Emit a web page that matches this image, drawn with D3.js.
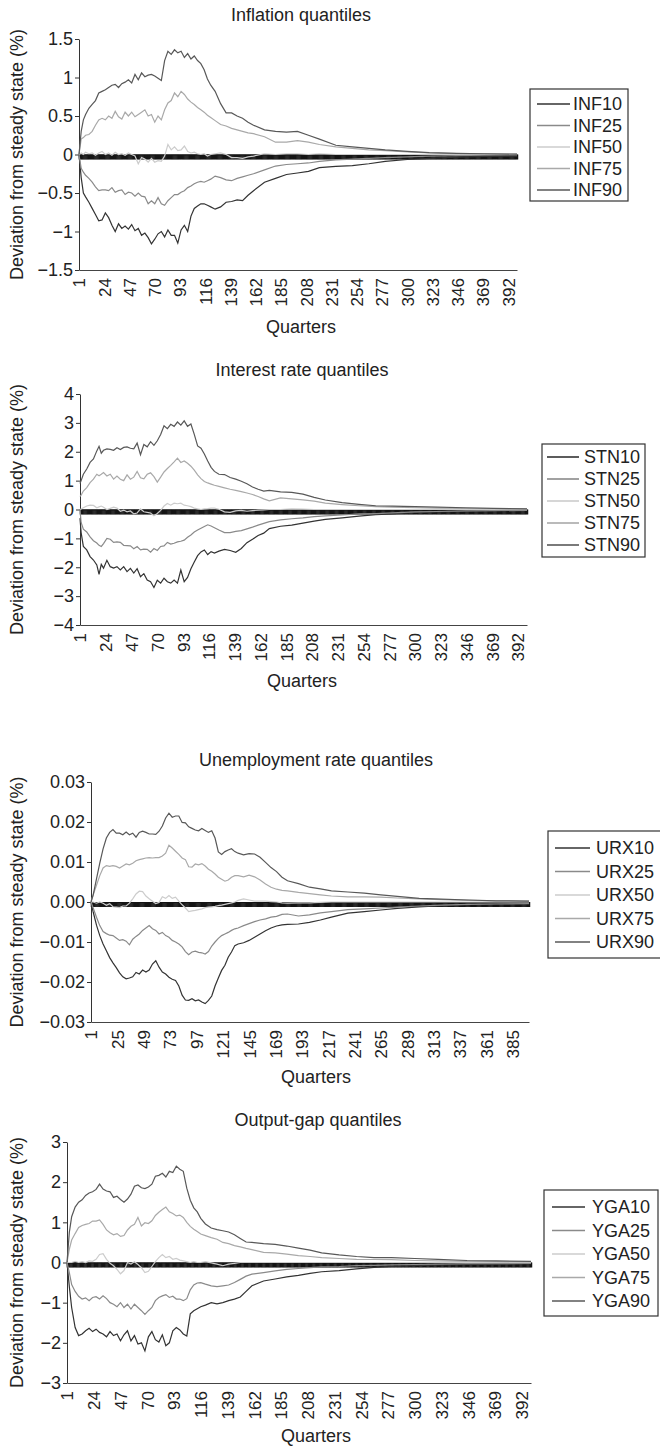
<!DOCTYPE html>
<html>
<head>
<meta charset="utf-8">
<title>Quantiles</title>
<script src="https://d3js.org/d3.v7.min.js"></script>
<style>
  body { margin: 0; background: #fff; }
  svg text { font-family: "Liberation Sans", Arial, Helvetica, sans-serif; }
</style>
</head>
<body>
<script>
// ---- data (quarter -> deviation) ----
var qInf = [1,3,5,7, 10,13,16,19,22,25,28,31,34,37, 40,43,46,49,52,55,58,61,64,67, 70,73,76,79,82,85,88,91,94,97,
  100,103,106,109,112,115,118,121, 125,130,135,140,145,150,155,160, 170,180,190,200,210,220, 235,250,265,280, 300,320,345,370,400];
var inf10 = [0,-0.3,-0.5,-0.55, -0.62,-0.7,-0.78,-0.86,-0.85,-0.76,-0.82,-0.92,-1.0,-0.9, -0.96,-0.93,-0.97,-0.91,-0.99,-0.96,-1.05,-1.02,-1.08,-1.16,
  -1.1,-1.03,-1.0,-1.07,-0.98,-1.05,-1.05,-1.15,-0.98,-0.92, -1.0,-0.8,-0.7,-0.67,-0.64,-0.64,-0.66,-0.68, -0.71,-0.68,-0.62,-0.61,-0.59,-0.6,-0.53,-0.47,
  -0.36,-0.31,-0.26,-0.24,-0.22,-0.17, -0.155,-0.145,-0.12,-0.09, -0.065,-0.05,-0.035,-0.025,-0.02];
var inf25 = [0,-0.18,-0.23,-0.27, -0.31,-0.36,-0.42,-0.47,-0.46,-0.46,-0.47,-0.43,-0.49,-0.47, -0.46,-0.52,-0.49,-0.5,-0.54,-0.5,-0.54,-0.55,-0.64,-0.6,
  -0.64,-0.56,-0.64,-0.66,-0.6,-0.56,-0.52,-0.52,-0.49,-0.47, -0.43,-0.41,-0.38,-0.36,-0.35,-0.36,-0.34,-0.32, -0.28,-0.3,-0.33,-0.34,-0.31,-0.29,-0.27,-0.25,
  -0.2,-0.15,-0.13,-0.12,-0.11,-0.09, -0.07,-0.06,-0.05,-0.04, -0.03,-0.02,-0.015,-0.01,-0.005];
var inf50 = [0,0.02,0,0.03, 0.01,0.02,-0.01,0.02,0.04,0,0.02,-0.01,0.03,0, 0.01,-0.01,0.02,0,-0.02,-0.12,-0.04,-0.06,-0.1,-0.05,
  -0.1,-0.08,-0.09,-0.02,0.13,0.06,0.1,0.05,0.06,0.11, 0.04,0.02,0.03,0.01,0,0.01,-0.02,0, 0.01,0.02,0,-0.04,-0.04,-0.05,-0.03,-0.02,
  0.01,0,0.01,0.01,0,0.01, 0,0,0,0, 0,0,0,0,0];
var inf75 = [0,0.2,0.22,0.25, 0.26,0.3,0.38,0.45,0.47,0.45,0.5,0.47,0.56,0.49, 0.46,0.55,0.5,0.55,0.49,0.52,0.55,0.58,0.5,0.52,
  0.42,0.5,0.45,0.58,0.67,0.7,0.8,0.75,0.82,0.78, 0.72,0.68,0.65,0.61,0.58,0.55,0.51,0.48, 0.44,0.39,0.37,0.34,0.32,0.3,0.28,0.27,
  0.23,0.16,0.16,0.18,0.16,0.13, 0.1,0.08,0.06,0.05, 0.035,0.02,0.012,0.008,0.004];
var inf90 = [0,0.3,0.45,0.52, 0.6,0.65,0.7,0.8,0.82,0.84,0.87,0.9,0.91,0.87, 0.92,0.94,0.97,0.93,1.04,0.97,1.06,1.01,1.03,1.04,
  1.02,0.99,0.96,1.22,1.34,1.3,1.36,1.32,1.34,1.26, 1.31,1.24,1.28,1.22,1.18,1.1,0.98,0.9, 0.82,0.66,0.54,0.54,0.5,0.47,0.42,0.38,
  0.32,0.3,0.29,0.3,0.25,0.2, 0.12,0.1,0.08,0.06, 0.04,0.025,0.015,0.01,0.005];

var qStn = [1,2,4,7,10,13,16,18,20,22, 25,28,31,34,37,40,43,46,49,52, 55,58,61,64,67,70,73,76,79,82, 85,88,91,94,97,100,103,106,109,112,
  115,118,121, 125,130,135,140,145,150,155,160,165,170, 180,190,200,210,220, 235,250,265,280, 300,320,345,370,400];
var stn10 = [-0.3,-0.8,-1.28,-1.4,-1.63,-1.75,-1.92,-2.25,-1.9,-2.03, -1.76,-1.98,-2.03,-1.98,-2.09,-1.98,-2.15,-2.04,-2.2,-2.05,
  -2.33,-2.22,-2.44,-2.5,-2.7,-2.45,-2.55,-2.38,-2.5,-2.55, -2.44,-2.55,-2.1,-2.5,-2.35,-2.05,-1.82,-1.6,-1.47,-1.4,
  -1.56,-1.46,-1.51, -1.44,-1.38,-1.42,-1.48,-1.35,-1.15,-1.03,-0.9,-0.82,-0.66, -0.58,-0.54,-0.47,-0.4,-0.34, -0.29,-0.23,-0.18,-0.15, -0.1,-0.08,-0.06,-0.04,-0.03];
var stn25 = [0,-0.45,-0.68,-0.78,-0.95,-1.08,-1.16,-1.24,-1.28,-1.18, -1.0,-1.03,-1.14,-1.12,-1.14,-1.24,-1.25,-1.26,-1.36,-1.28,
  -1.4,-1.37,-1.38,-1.48,-1.35,-1.42,-1.28,-1.26,-1.14,-1.2, -1.17,-1.12,-1.1,-1.06,-0.96,-0.88,-0.78,-0.71,-0.65,-0.59,
  -0.53,-0.57,-0.63, -0.71,-0.8,-0.8,-0.76,-0.73,-0.67,-0.61,-0.54,-0.48,-0.42, -0.36,-0.32,-0.29,-0.25,-0.22, -0.19,-0.15,-0.14,-0.12, -0.08,-0.07,-0.05,-0.04,-0.03];
var stn50 = [0,0.02,0.06,0.12,0.15,0.14,0.06,0.09,0.12,0.08, 0,0.04,0.08,0.05,-0.06,-0.02,-0.08,-0.05,-0.15,-0.12,
  0.02,-0.08,-0.1,-0.12,-0.22,-0.14,-0.03,0.12,0.21,0.15, 0.22,0.2,0.22,0.15,0.13,0.1,0.05,0.02,0,0.02,
  0.03,0.05,0.05, 0.01,-0.08,-0.1,-0.05,-0.03,-0.06,-0.04,-0.02,-0.01,0, 0,0.02,0.01,0,0, 0,0,0,0, 0,0,0,0,0];
var stn75 = [0.45,0.5,0.64,0.76,0.93,1.05,1.22,1.17,1.22,1.28, 1.16,1.22,1.05,1.16,1.05,1.0,1.2,1.05,1.12,1.32,
  1.1,1.06,1.22,1.27,1.14,0.95,1.12,1.3,1.42,1.53, 1.65,1.78,1.63,1.68,1.6,1.5,1.36,1.2,1.07,0.97,
  0.92,0.88,0.84, 0.8,0.75,0.7,0.66,0.62,0.57,0.52,0.45,0.37,0.3, 0.4,0.37,0.33,0.29,0.22, 0.17,0.13,0.1,0.08, 0.06,0.05,0.04,0.03,0.02];
var stn90 = [0.9,1.0,1.22,1.4,1.63,1.75,2.03,2.19,1.95,2.05, 2.1,2.08,2.05,2.14,2.08,2.15,2.17,2.12,2.1,2.3,
  1.9,2.25,2.17,2.35,2.22,2.38,2.6,2.9,2.8,2.95, 2.88,3.03,2.92,3.07,2.88,2.96,2.6,2.2,2.12,1.92,
  1.68,1.46,1.32, 1.22,1.21,1.11,1.05,0.98,0.89,0.78,0.7,0.64,0.66, 0.61,0.59,0.53,0.42,0.33, 0.24,0.18,0.13,0.12, 0.1,0.08,0.06,0.04,0.02];

var qUrx = [1, 3,6,9,12,15,18,21,24,27,30, 33,36,39,42,45,48,51,54,57,60, 63,66,69,72,75,78,81,84,87,90, 93,96,99,102,105,108,111,114,117,120,
  123,126,129,132,135, 140,145,150,155,160,165,170,175,180, 190,200,210,220, 235,250,265,280, 300,320,345,370,400];
var urx10 = [0, -0.0025,-0.0058,-0.0084,-0.0105,-0.0122,-0.0139,-0.0152,-0.0164,-0.0177,-0.0187, -0.0192,-0.019,-0.0187,-0.0176,-0.018,-0.017,-0.0175,-0.017,-0.0155,-0.0147,
  -0.0163,-0.0175,-0.018,-0.0188,-0.0193,-0.0196,-0.021,-0.0233,-0.0245,-0.0246, -0.0242,-0.0247,-0.0245,-0.025,-0.0254,-0.0246,-0.0235,-0.021,-0.019,-0.0171,
  -0.0158,-0.0138,-0.0125,-0.0109,-0.0105, -0.0102,-0.0096,-0.0088,-0.008,-0.0072,-0.0065,-0.006,-0.0057,-0.0056, -0.0055,-0.0051,-0.0045,-0.0038,
  -0.0028,-0.0024,-0.002,-0.0016, -0.0012,-0.0009,-0.0006,-0.0004,-0.0003];
var urx25 = [0, -0.0015,-0.0038,-0.0059,-0.0074,-0.0079,-0.0083,-0.0084,-0.009,-0.0096,-0.0094, -0.0098,-0.0107,-0.0093,-0.0086,-0.008,-0.0071,-0.0065,-0.0059,-0.0067,-0.0071,
  -0.008,-0.0076,-0.0084,-0.0088,-0.0096,-0.01,-0.0105,-0.0112,-0.0124,-0.0132, -0.0125,-0.0123,-0.0126,-0.0127,-0.013,-0.0124,-0.011,-0.01,-0.0091,-0.0084,
  -0.008,-0.0076,-0.0071,-0.0067,-0.0065, -0.0059,-0.0054,-0.0049,-0.0045,-0.0042,-0.0038,-0.0036,-0.0031,-0.003, -0.0035,-0.0032,-0.0027,-0.0024,
  -0.0019,-0.0017,-0.0015,-0.0013, -0.001,-0.0008,-0.0006,-0.0005,-0.0004];
var urx50 = [0, 0,-0.0003,0,-0.0003,-0.0008,-0.0004,-0.0012,-0.0013,-0.0014,-0.001, -0.001,-0.0003,0.0008,0.002,0.0027,0.0026,0.0015,0.0008,0.0002,-0.0004,
  -0.0001,0.0013,0.0009,0.0016,0.0009,0.0012,0.0002,-0.0007,-0.0015,-0.0024, -0.0022,-0.0021,-0.0019,-0.0017,-0.0014,-0.0013,-0.0012,-0.0011,-0.0009,-0.0008,
  -0.0006,-0.0004,-0.0002,0,0.0004, 0.0008,0.0005,0.0002,0.0002,0.0002,0.0001,0,-0.0002,-0.0003, -0.0002,-0.0002,-0.0001,0,
  0,0,0,0, 0,0,0,0,0];
var urx75 = [0, 0.0018,0.0042,0.0066,0.0085,0.0091,0.0089,0.0091,0.0089,0.0085,0.009, 0.0095,0.0093,0.0097,0.0103,0.0106,0.0108,0.011,0.0111,0.011,0.0111,
  0.0111,0.0115,0.0122,0.0142,0.0135,0.0127,0.0119,0.011,0.0106,0.0088, 0.0087,0.0095,0.0093,0.0096,0.009,0.0082,0.0077,0.007,0.0062,0.0057,
  0.0052,0.0055,0.0062,0.0066,0.0066, 0.0063,0.0067,0.0063,0.0055,0.0045,0.0037,0.0032,0.0029,0.0028, 0.0024,0.0021,0.0018,0.0015,
  0.0013,0.0013,0.0012,0.001, 0.0008,0.0006,0.0004,0.0003,0.0002];
var urx90 = [0, 0.0018,0.0058,0.0097,0.0133,0.016,0.0174,0.0181,0.0172,0.0172,0.0168, 0.0175,0.0168,0.0172,0.0162,0.0174,0.0177,0.0174,0.017,0.017,0.0169,
  0.0177,0.019,0.021,0.0222,0.0212,0.0215,0.0215,0.0199,0.0198,0.0188, 0.0184,0.018,0.0178,0.0184,0.0179,0.0174,0.0178,0.016,0.0125,0.0119,
  0.0126,0.013,0.0133,0.0126,0.0122, 0.0118,0.0121,0.012,0.0112,0.0099,0.0086,0.0076,0.0062,0.0053, 0.0046,0.0037,0.0033,0.0028,
  0.0025,0.0022,0.0018,0.0014, 0.0009,0.0007,0.0005,0.0003,0.0002];

var qYga = [1,3,5, 8,11,14,17,20,23,26,29,32,35, 38,41,44,47,50,53,56,59,62,65, 68,71,74,77,80,83,86,89,92,95, 98,101,104,107,110,113,116,
  120, 125,130,135,140,145,150,155,160, 170,180,190,200,210,220, 235,250,265,280, 300,320,345,370,400];
var yga10 = [0,-0.6,-1.12, -1.62,-1.82,-1.78,-1.7,-1.64,-1.72,-1.66,-1.74,-1.78,-1.85, -1.72,-1.82,-1.78,-1.95,-1.8,-1.7,-1.95,-1.82,-2.03,-2.0,
  -2.2,-1.85,-1.72,-1.92,-1.98,-1.8,-2.07,-2.0,-1.7,-1.62, -1.68,-1.78,-1.83,-1.28,-1.2,-1.15,-1.1, -1.06,
  -1.0,-1.03,-1.0,-0.95,-0.91,-0.86,-0.72,-0.58, -0.46,-0.41,-0.36,-0.32,-0.27,-0.23, -0.2,-0.16,-0.12,-0.1, -0.08,-0.06,-0.05,-0.04,-0.03];
var yga25 = [0,-0.25,-0.55, -0.72,-0.84,-0.91,-0.88,-0.95,-0.87,-0.85,-0.91,-0.83,-0.9, -1.0,-1.04,-1.1,-1.0,-1.12,-1.04,-1.16,-1.04,-1.12,-1.2,
  -1.29,-1.2,-1.12,-0.95,-0.87,-0.83,-0.8,-0.87,-0.84,-0.91, -0.91,-0.95,-0.9,-0.68,-0.56,-0.51,-0.5, -0.54,
  -0.58,-0.6,-0.58,-0.56,-0.5,-0.42,-0.34,-0.29, -0.25,-0.21,-0.17,-0.15,-0.13,-0.11, -0.1,-0.08,-0.07,-0.06, -0.05,-0.04,-0.03,-0.03,-0.02];
var yga50 = [0,0,0, 0.03,0,0.02,0,0.04,0.03,0.08,0.2,0.22,0.08, -0.02,-0.08,-0.17,-0.28,-0.2,0,-0.04,0.02,-0.05,-0.13,
  -0.25,-0.22,-0.1,0.02,0.12,0.2,0.12,0.15,0.08,0.1, 0.06,0.04,0.02,0,0.02,0,0, 0.02,
  -0.01,-0.04,-0.08,-0.04,-0.02,0,0,0, 0,0,0,0,0,0, 0,0,0,0, 0,0,0,0,0];
var yga75 = [0,0.33,0.56, 0.72,0.87,0.92,0.95,0.97,1.03,1.03,1.06,0.95,0.81, 0.74,0.69,0.72,0.65,0.67,0.81,0.9,0.95,1.12,0.91,
  0.99,0.97,1.04,1.17,1.25,1.32,1.38,1.26,1.22,1.16, 1.18,1.12,1.0,0.9,0.83,0.77,0.71, 0.67,
  0.62,0.58,0.5,0.47,0.42,0.39,0.35,0.32, 0.25,0.24,0.21,0.17,0.15,0.12, 0.1,0.08,0.075,0.07, 0.05,0.04,0.03,0.02,0.015];
var yga90 = [0,0.75,1.14, 1.38,1.5,1.56,1.67,1.73,1.76,1.82,1.95,1.83,1.78, 1.76,1.62,1.65,1.57,1.5,1.58,1.7,1.9,1.93,1.86,
  1.84,1.88,1.95,2.15,2.17,2.22,2.13,2.27,2.24,2.4, 2.32,2.27,1.85,1.55,1.36,1.26,1.1, 0.96,
  0.86,0.82,0.79,0.76,0.69,0.6,0.51,0.5, 0.47,0.45,0.41,0.36,0.31,0.24, 0.19,0.15,0.12,0.12, 0.1,0.08,0.05,0.04,0.03];

// tick labels
var xTicks23 = [1,24,47,70,93,116,139,162,185,208,231,254,277,300,323,346,369,392];
var xTicks24 = [1,25,49,73,97,121,145,169,193,217,241,265,289,313,337,361,385];
var lastQuarter = 400;

var colors = ["#333333", "#8a8a8a", "#cccccc", "#a9a9a9", "#585858"];

var svg = d3.select("body").append("svg")
    .attr("width", 660)
    .attr("height", 1449);

var panels = [
  { title: "Inflation quantiles", names: ["INF10","INF25","INF50","INF75","INF90"],
    qs: qInf, series: [inf10, inf25, inf50, inf75, inf90],
    yDomain: [-1.5, 1.5], yTicks: [-1.5,-1,-0.5,0,0.5,1,1.5], yFmt: d3.format(""), xTicks: xTicks23,
    left: 79, right: 517, top: 39, bottom: 270, titleX: 301, titleY: 21, quartersX: 301, quartersY: 333,
    leg: { x: 530, y: 89, w: 98, h: 112, row0: 104, step: 21.5, l1: 7, l2: 40, tx: 43 } },
  { title: "Interest rate quantiles", names: ["STN10","STN25","STN50","STN75","STN90"],
    qs: qStn, series: [stn10, stn25, stn50, stn75, stn90],
    yDomain: [-4, 4], yTicks: [-4,-3,-2,-1,0,1,2,3,4], yFmt: d3.format(""), xTicks: xTicks23,
    left: 80, right: 527, top: 394, bottom: 625, titleX: 302, titleY: 376, quartersX: 302, quartersY: 687,
    leg: { x: 542, y: 444, w: 103, h: 113, row0: 457, step: 22, l1: 5, l2: 37, tx: 42 } },
  { title: "Unemployment rate quantiles", names: ["URX10","URX25","URX50","URX75","URX90"],
    qs: qUrx, series: [urx10, urx25, urx50, urx75, urx90],
    yDomain: [-0.03, 0.03], yTicks: [-0.03,-0.02,-0.01,0,0.01,0.02,0.03], yFmt: d3.format(".2f"), xTicks: xTicks24,
    left: 91, right: 529, top: 782, bottom: 1022, titleX: 316, titleY: 766, quartersX: 316, quartersY: 1083,
    leg: { x: 548, y: 831, w: 116, h: 127, row0: 848, step: 23.5, l1: 7, l2: 42, tx: 48 } },
  { title: "Output-gap quantiles", names: ["YGA10","YGA25","YGA50","YGA75","YGA90"],
    qs: qYga, series: [yga10, yga25, yga50, yga75, yga90],
    yDomain: [-3, 3], yTicks: [-3,-2,-1,0,1,2,3], yFmt: d3.format(""), xTicks: xTicks23,
    left: 67, right: 531, top: 1142, bottom: 1383, titleX: 318, titleY: 1126, quartersX: 316, quartersY: 1442,
    leg: { x: 544, y: 1190, w: 114, h: 126, row0: 1207, step: 23.5, l1: 8, l2: 41, tx: 48 } }
];

var allQuarters = d3.range(1, lastQuarter + 1);

function drawPanel(p) {
  var x = d3.scaleLinear().domain([1, lastQuarter]).range([p.left, p.right]);
  var y = d3.scaleLinear().domain(p.yDomain).range([p.bottom, p.top]);
  var g = svg.append("g");

  g.append("text")
    .attr("x", p.titleX).attr("y", p.titleY)
    .attr("text-anchor", "middle")
    .style("font-size", "18px").attr("fill", "#222")
    .text(p.title);

  // category axis crossing at zero: one small tick per quarter
  g.append("g")
    .attr("transform", "translate(0," + y(0) + ")")
    .call(d3.axisBottom(x).tickValues(allQuarters).tickSize(5).tickSizeOuter(0).tickFormat(""))
    .call(function(a) {
      a.selectAll("line").attr("stroke", "#151515").attr("stroke-width", 1.5);
      a.select(".domain").attr("stroke", "#151515");
    });

  // labels at the bottom
  var xa = g.append("g")
    .attr("transform", "translate(0," + p.bottom + ")")
    .call(d3.axisBottom(x).tickValues(p.xTicks).tickSize(0).tickSizeOuter(0).tickPadding(0));
  xa.attr("font-size", 17).attr("font-family", null);
  xa.select(".domain").attr("stroke", "#444");
  xa.selectAll("text")
    .attr("transform", "rotate(-90)")
    .attr("text-anchor", "end")
    .attr("x", -8).attr("y", 0).attr("dy", "0.35em")
    .attr("fill", "#222");

  var ya = g.append("g")
    .attr("transform", "translate(" + p.left + ",0)")
    .call(d3.axisLeft(y).tickValues(p.yTicks).tickFormat(p.yFmt).tickSize(4).tickSizeOuter(0).tickPadding(2));
  ya.attr("font-size", 18).attr("font-family", null);
  ya.select(".domain").attr("stroke", "#333");
  ya.selectAll("line").attr("stroke", "#333");
  ya.selectAll("text").attr("fill", "#222");

  g.append("text")
    .attr("transform", "translate(17," + ((p.top + p.bottom) / 2) + ") rotate(-90)")
    .attr("text-anchor", "middle").attr("dy", "0.35em")
    .style("font-size", "18px").attr("fill", "#222")
    .text("Deviation from steady state (%)");

  g.append("text")
    .attr("x", p.quartersX).attr("y", p.quartersY)
    .attr("text-anchor", "middle")
    .style("font-size", "18px").attr("fill", "#222")
    .text("Quarters");

  var line = d3.line()
    .x(function(d, i) { return x(p.qs[i]); })
    .y(function(d) { return y(d); });

  p.series.forEach(function(vals, k) {
    g.append("path")
      .datum(vals)
      .attr("fill", "none")
      .attr("stroke", colors[k])
      .attr("stroke-width", 1.2)
      .attr("d", line);
  });

  // legend
  var L = p.leg;
  var lg = g.append("g");
  lg.append("rect")
    .attr("x", L.x).attr("y", L.y).attr("width", L.w).attr("height", L.h)
    .attr("fill", "#fff").attr("stroke", "#333").attr("stroke-width", 1.2);
  p.names.forEach(function(name, k) {
    var yy = L.row0 + k * L.step;
    lg.append("line")
      .attr("x1", L.x + L.l1).attr("x2", L.x + L.l2)
      .attr("y1", yy).attr("y2", yy)
      .attr("stroke", colors[k]).attr("stroke-width", 1.6);
    lg.append("text")
      .attr("x", L.x + L.tx).attr("y", yy).attr("dy", "0.35em")
      .style("font-size", "18px").attr("fill", "#222")
      .text(name);
  });
}

panels.forEach(drawPanel);
</script>
</body>
</html>
